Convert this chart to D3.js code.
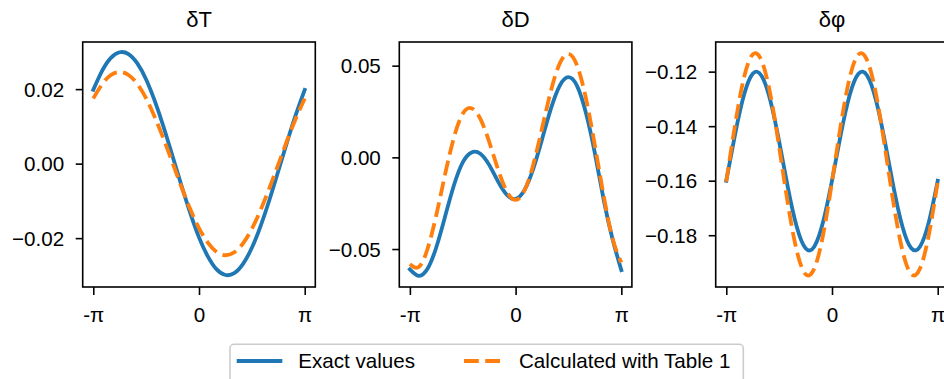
<!DOCTYPE html>
<html>
<head>
<meta charset="utf-8">
<script src="https://cdn.jsdelivr.net/npm/d3@7"></script>
<style>
  html, body { margin: 0; padding: 0; background: #ffffff; }
  svg { display: block; }
  text { font-family: "Liberation Sans", Arial, Helvetica, sans-serif; fill: #000; }
</style>
</head>
<body>
<svg id="chart" width="944" height="379"></svg>
<script>
// ---- data (angles in degrees, -180 .. 180 step 15) ----
const angles = [-180,-165,-150,-135,-120,-105,-90,-75,-60,-45,-30,-15,0,15,30,45,60,75,90,105,120,135,150,165,180];

const titles = ["δT", "δD", "δφ"];
const seriesNames = ["Exact values", "Calculated with Table 1"];

const dT_exact = [0.0198,0.0249,0.0284,0.0299,0.0294,0.0269,0.0226,0.0167,0.0097,0.0020,-0.0058,-0.0132,-0.0198,-0.0249,-0.0284,-0.0299,-0.0294,-0.0269,-0.0226,-0.0167,-0.0097,-0.0020,0.0058,0.0132,0.0198];
const dT_table = [0.0175,0.0213,0.0238,0.0246,0.0238,0.0214,0.0175,0.0124,0.0065,0.0002,-0.0062,-0.0122,-0.0173,-0.0212,-0.0237,-0.0246,-0.0238,-0.0214,-0.0175,-0.0124,-0.0065,-0.0002,0.0062,0.0122,0.0175];

const dD_exact = [-0.0611,-0.0646,-0.0608,-0.0490,-0.0322,-0.0152,-0.0027,0.0027,0.0020,-0.0041,-0.0131,-0.0204,-0.0227,-0.0179,-0.0063,0.0098,0.0264,0.0390,0.0437,0.0387,0.0239,0.0022,-0.0232,-0.0445,-0.0615];
const dD_table = [-0.0582,-0.0598,-0.0500,-0.0315,-0.0092,0.0108,0.0238,0.0268,0.0210,0.0085,-0.0065,-0.0186,-0.0232,-0.0182,-0.0040,0.0158,0.0361,0.0511,0.0565,0.0498,0.0318,0.0064,-0.0210,-0.0442,-0.0573];

const dPhi_exact = [-0.1600,-0.1430,-0.1287,-0.1208,-0.1215,-0.1306,-0.1456,-0.1626,-0.1769,-0.1848,-0.1841,-0.1750,-0.1600,-0.1430,-0.1287,-0.1208,-0.1215,-0.1306,-0.1456,-0.1626,-0.1769,-0.1848,-0.1841,-0.1750,-0.1600];
const dPhi_table = [-0.1604,-0.1395,-0.1223,-0.1137,-0.1159,-0.1283,-0.1476,-0.1686,-0.1857,-0.1943,-0.1921,-0.1797,-0.1604,-0.1395,-0.1223,-0.1137,-0.1159,-0.1283,-0.1476,-0.1686,-0.1857,-0.1943,-0.1921,-0.1797,-0.1604];

const xTickValues = [-180, 0, 180];
const xTickLabels = ["-π", "0", "π"];
const yTicksT = [-0.02, 0, 0.02];
const yTicksD = [-0.05, 0, 0.05];
const yTicksPhi = [-0.18, -0.16, -0.14, -0.12];
const yDomainT = [-0.03312, 0.03265];
const yDomainD = [-0.0707, 0.0629];
const yDomainPhi = [-0.19899, -0.10913];

// ---- layout ----
const panels = [
  { title: titles[0], exact: dT_exact, table: dT_table, ticks: yTicksT, domain: yDomainT, left: 82.7 },
  { title: titles[1], exact: dD_exact, table: dD_table, ticks: yTicksD, domain: yDomainD, left: 399.3 },
  { title: titles[2], exact: dPhi_exact, table: dPhi_table, ticks: yTicksPhi, domain: yDomainPhi, left: 715.7 }
];
const panelW = 232.6, plotTop = 42, plotBottom = 287;
const blue = "#1f77b4", orange = "#ff7f0e";
const lw = 3.8, dash = "14.8,6.4";
const fs = 20.6;

const svg = d3.select("#chart");
svg.append("rect").attr("width", 944).attr("height", 379).attr("fill", "#fff");

const fmtMinus = s => s.replace("-", "\u2212");

panels.forEach(p => {
  const x = d3.scaleLinear().domain([-198, 198]).range([p.left, p.left + panelW]);
  const y = d3.scaleLinear().domain(p.domain).range([plotBottom, plotTop]);
  const g = svg.append("g");

  const line = d3.line()
    .x((d, i) => x(angles[i]))
    .y(d => y(d))
    .curve(d3.curveNatural);

  g.append("path").datum(p.exact)
    .attr("d", line).attr("fill", "none")
    .attr("stroke", blue).attr("stroke-width", lw)
    .attr("stroke-linecap", "square");
  g.append("path").datum(p.table)
    .attr("d", line).attr("fill", "none")
    .attr("stroke", orange).attr("stroke-width", lw)
    .attr("stroke-dasharray", dash);

  // spines
  g.append("rect")
    .attr("x", p.left).attr("y", plotTop)
    .attr("width", panelW).attr("height", plotBottom - plotTop)
    .attr("fill", "none").attr("stroke", "#000").attr("stroke-width", 1.6);

  // y axis
  const yAxis = d3.axisLeft(y).tickValues(p.ticks)
    .tickFormat(v => fmtMinus(d3.format(".2f")(v)))
    .tickSize(7).tickSizeOuter(0).tickPadding(11.5);
  const ya = g.append("g").attr("transform", `translate(${p.left},0)`).call(yAxis);
  ya.select(".domain").remove();
  ya.selectAll(".tick line").attr("stroke", "#000").attr("stroke-width", 1.6);
  ya.selectAll(".tick text").attr("font-size", fs).attr("dy", "0.35em")
    .style("font-family", '"Liberation Sans", Arial, sans-serif').attr("fill", "#000");

  // x axis
  const xAxis = d3.axisBottom(x).tickValues(xTickValues)
    .tickFormat((v, i) => xTickLabels[i])
    .tickSize(8).tickSizeOuter(0).tickPadding(0);
  const xa = g.append("g").attr("transform", `translate(0,${plotBottom})`).call(xAxis);
  xa.select(".domain").remove();
  xa.selectAll(".tick line").attr("stroke", "#000").attr("stroke-width", 1.6);
  xa.selectAll(".tick text").attr("font-size", fs).attr("y", 35).attr("dy", 0)
    .style("font-family", '"Liberation Sans", Arial, sans-serif').attr("fill", "#000");

  // title
  g.append("text")
    .attr("x", p.left + panelW / 2).attr("y", 26.5)
    .attr("text-anchor", "middle").attr("font-size", 22)
    .text(p.title);
});

// ---- legend ----
const lg = svg.append("g");
lg.append("rect")
  .attr("x", 230).attr("y", 344.3).attr("width", 513.3).attr("height", 50)
  .attr("rx", 4).attr("fill", "#fff").attr("fill-opacity", 0.8)
  .attr("stroke", "#cccccc").attr("stroke-width", 1.6);
const legendItems = [
  { name: seriesNames[0], color: blue, dash: null, x0: 236.7, x1: 282.3, tx: 298.3 },
  { name: seriesNames[1], color: orange, dash: dash, x0: 464, x1: 500, tx: 519 }
];
legendItems.forEach(it => {
  const l = lg.append("line")
    .attr("x1", it.x0).attr("x2", it.x1).attr("y1", 361).attr("y2", 361)
    .attr("stroke", it.color).attr("stroke-width", lw);
  if (it.dash) l.attr("stroke-dasharray", it.dash);
  lg.append("text").attr("x", it.tx).attr("y", 367.7)
    .attr("font-size", fs).text(it.name);
});
</script>
</body>
</html>
